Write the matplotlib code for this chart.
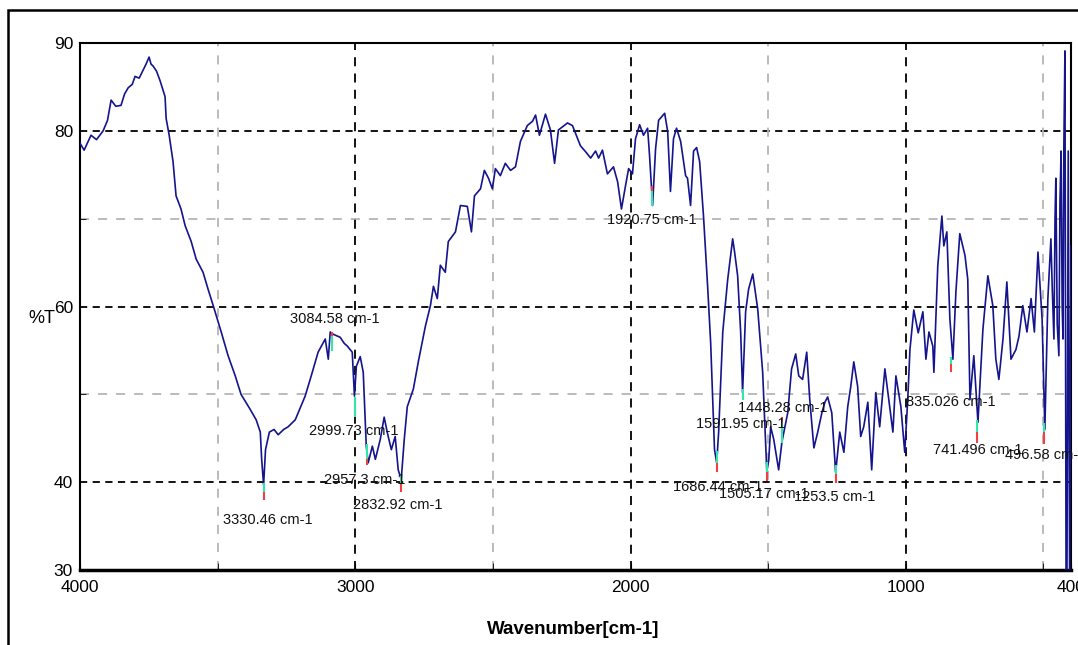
import matplotlib
matplotlib.use("Agg")
import matplotlib.pyplot as plt
from matplotlib.patches import Rectangle

plt.rcParams['font.family'] = ['Liberation Sans', 'DejaVu Sans']

# ---------------- data ----------------
wavenumber = [
    4000, 3985, 3960, 3940, 3916, 3900, 3887, 3870, 3851, 3838, 3825, 3810, 3800, 3785,
    3771, 3760, 3749, 3742, 3735, 3722, 3709, 3691, 3687, 3676, 3662, 3651, 3633, 3618,
    3596, 3578, 3553, 3535, 3516, 3487, 3462, 3436, 3415, 3382, 3360, 3345, 3340, 3333,
    3326, 3312, 3295, 3280, 3260, 3244, 3218, 3182, 3160, 3135, 3109, 3098, 3091, 3084,
    3070, 3055, 3040, 3029, 3011, 3003, 2996, 2982, 2971, 2960, 2953, 2938, 2927, 2909,
    2895, 2884, 2869, 2855, 2844, 2833, 2822, 2811, 2789, 2771, 2745, 2727, 2716, 2702,
    2691, 2673, 2662, 2636, 2618, 2593, 2578, 2567, 2545, 2531, 2516, 2502, 2491, 2473,
    2455, 2436, 2418, 2400, 2375, 2356, 2345, 2331, 2309, 2291, 2276, 2262, 2229, 2211,
    2182, 2160, 2145, 2127, 2116, 2102, 2084, 2062, 2047, 2033, 2018, 2007, 1993, 1982,
    1967, 1953, 1938, 1931, 1920, 1909, 1898, 1876, 1865, 1855, 1844, 1833, 1818, 1800,
    1793, 1782, 1771, 1760, 1749, 1735, 1720, 1709, 1695, 1687, 1680, 1665, 1647, 1629,
    1622, 1611, 1600, 1593, 1582, 1571, 1556, 1538, 1520, 1505, 1498, 1491, 1480, 1462,
    1450, 1429, 1415, 1400, 1389, 1375, 1360, 1349, 1334, 1320, 1305, 1294, 1284, 1269,
    1255, 1240, 1225, 1211, 1200, 1189, 1175, 1164, 1153, 1138, 1124, 1109, 1095, 1076,
    1062, 1047, 1036, 1018, 1004, 993, 985, 971, 955, 938, 927, 916, 902, 898,
    884, 869, 862, 851, 840, 829, 818, 804, 785, 775, 767, 753, 738, 720,
    702, 684, 673, 662, 647, 633, 618, 600, 589, 575, 560, 545, 533, 520,
    505, 495, 484, 473, 468, 462, 458, 455, 450, 444, 440, 436, 432, 429,
    426, 422, 418, 415, 410, 405, 400,
]
transmittance = [
    78.6, 77.8, 79.5, 79.0, 80.0, 81.2, 83.5, 82.8, 82.9, 84.2, 84.9, 85.3, 86.2, 86.0,
    86.9, 87.6, 88.4, 87.6, 87.4, 86.8, 85.7, 83.9, 81.4, 79.5, 76.5, 72.6, 71.1, 69.2,
    67.4, 65.4, 63.9, 62.0, 60.1, 57.1, 54.4, 52.1, 50.0, 48.3, 47.1, 45.7, 42.6, 39.7,
    43.7, 45.7, 46.0, 45.4, 46.0, 46.3, 47.1, 49.8, 52.1, 54.8, 56.3, 54.0, 57.1, 56.9,
    56.7, 56.5, 55.8, 55.5, 54.8, 49.8, 53.2, 54.3, 52.5, 44.1, 42.2, 44.1, 42.6, 44.9,
    47.4, 45.7, 43.7, 45.2, 41.4, 40.3, 44.9, 48.6, 50.6, 53.7, 57.8, 60.1, 62.3, 60.9,
    64.7, 63.9, 67.4, 68.5, 71.5, 71.4, 68.5, 72.6, 73.4, 75.5, 74.6, 73.4, 75.7, 74.9,
    76.3, 75.5, 75.9, 78.8, 80.6, 81.1, 81.8, 79.5, 81.9, 80.1, 76.3, 80.1, 80.9, 80.6,
    78.3, 77.5, 76.9, 77.7, 76.9, 77.8, 75.1, 75.9, 74.2, 71.1, 73.8, 75.7, 75.1, 79.1,
    80.7, 79.5, 80.3, 77.2, 71.5, 78.0, 81.2, 82.0, 79.9, 73.1, 79.1, 80.3, 78.8, 74.9,
    74.6, 71.5, 77.7, 78.1, 76.5, 70.3, 62.3, 55.9, 43.7, 42.2, 45.7, 57.1, 63.1, 67.7,
    66.2, 63.5, 57.1, 50.2, 59.4, 62.0, 63.7, 59.7, 52.5, 41.2, 42.5, 46.3, 44.9, 41.4,
    44.6, 47.9, 52.9, 54.6, 52.1, 51.7, 54.8, 49.4, 43.9, 45.7, 47.9, 49.1, 49.7, 47.9,
    41.1, 45.7, 43.4, 48.6, 50.9, 53.7, 50.9, 45.2, 46.3, 49.1, 41.4, 50.2, 46.3, 52.9,
    49.4, 45.7, 52.1, 48.6, 43.4, 49.4, 55.1, 59.6, 57.0, 59.4, 54.0, 57.1, 55.5, 52.5,
    64.6, 70.3, 66.9, 68.5, 58.6, 54.0, 61.7, 68.3, 65.8, 63.1, 49.4, 54.4, 46.8, 57.4,
    63.5, 60.1, 54.0, 51.7, 56.3, 62.8, 54.0, 55.1, 56.6, 60.1, 57.1, 60.9, 57.1, 66.2,
    58.6, 46.0, 60.9, 67.7, 62.0, 56.3, 70.0, 74.6, 58.0, 54.4, 72.0, 77.7, 60.0, 56.3,
    78.0, 89.1, 30.0, 25.0, 77.7, 28.0, 66.9,
]

peak_wn = [3330.46, 3084.58, 2999.73, 2957.3, 2832.92, 1920.75, 1686.44,
           1591.95, 1448.28, 1505.17, 1253.5, 835.026, 741.496, 496.58]
peak_labels = ["3330.46 cm-1", "3084.58 cm-1", "2999.73 cm-1", "2957.3 cm-1",
               "2832.92 cm-1", "1920.75 cm-1", "1686.44 cm-1", "1591.95 cm-1",
               "1448.28 cm-1", "1505.17 cm-1", "1253.5 cm-1", "835.026 cm-1",
               "741.496 cm-1", "496.58 cm-1"]
cyan_marks = [(39.9, 38.9), (56.6, 54.9), (49.7, 47.4), (44.3, 42.6), (40.9, 39.8),
              (73.2, 71.4), (43.5, 42.2), (50.6, 49.4), (46.9, 44.5), (42.3, 41.2),
              (42.0, 40.9), (54.2, 53.4), (47.1, 45.7), (46.7, 45.7)]
red_marks = [(38.9, 38.0), (57.1, 56.6), None, (42.6, 42.0), (39.8, 38.9),
             (73.7, 73.2), (42.2, 41.2), None, (47.4, 46.9), (41.2, 40.1),
             (40.9, 39.9), (53.4, 52.5), (45.7, 44.5), (45.7, 44.3)]

# label placement (layout)
label_xy = [(3316, 35.7), (3073, 58.6), (3004, 45.8), (2964, 40.3), (2844, 37.4),
            (1924, 69.9), (1684, 39.5), (1600, 46.6), (1447, 48.4), (1516, 38.6),
            (1258, 38.3), (837, 49.1), (738, 43.7), (491, 43.1)]

x_major = [4000, 3000, 2000, 1000, 400]
x_minor = [3500, 2500, 1500, 500]
y_major = [30, 40, 60, 80, 90]
y_minor = [50, 70]

# ---------------- figure ----------------
fig = plt.figure(figsize=(10.78, 6.45), dpi=100)
ax = fig.add_axes([0.0742, 0.1163, 0.9193, 0.8170])

for v in [80, 60, 40]:
    ax.axhline(v, color='black', lw=1.3, dashes=(4, 3), zorder=1)
for v in y_minor:
    ax.axhline(v, color='#b5b5b5', lw=1.3, dashes=(5, 5), zorder=1)
for v in [3000, 2000, 1000]:
    ax.axvline(v, color='black', lw=1.3, dashes=(5, 4), zorder=1)
for v in x_minor:
    ax.axvline(v, color='#b5b5b5', lw=1.3, dashes=(5, 5), zorder=1)

ax.plot(wavenumber, transmittance, color='#14148c', lw=1.2, zorder=3)

for wn, c, r in zip(peak_wn, cyan_marks, red_marks):
    ax.plot([wn, wn], list(c), color='#33e6a8', lw=1.5, zorder=4, solid_capstyle='butt')
    if r is not None:
        ax.plot([wn, wn], list(r), color='#f04040', lw=1.5, zorder=4, solid_capstyle='butt')

for (tx, ty), lab in zip(label_xy, peak_labels):
    ax.text(tx, ty, lab, ha='center', va='center', fontsize=10.5, color='#111111',
            zorder=5, clip_on=False)

ax.set_xlim(4000, 400)
ax.set_ylim(30, 90)
ax.set_xticks(x_major)
ax.set_xticklabels([str(v) for v in x_major])
ax.set_xticks(x_minor, minor=True)
ax.set_yticks(y_major)
ax.set_yticklabels([str(v) for v in y_major])
ax.set_yticks(y_minor, minor=True)
ax.tick_params(axis='both', which='both', direction='in', labelsize=12.5)
ax.tick_params(axis='x', which='major', length=5, pad=7)
ax.tick_params(axis='x', which='minor', length=5)
ax.tick_params(axis='y', which='major', length=0, pad=5)
ax.tick_params(axis='y', which='minor', length=4)

for side in ['left', 'top', 'right']:
    ax.spines[side].set_linewidth(1.5)
ax.spines['bottom'].set_linewidth(2.5)

fig.text(0.026, 1 - 318 / 645, "%T", fontsize=13, ha='left', va='center')
fig.text(0.532, 1 - 630 / 645, "Wavenumber[cm-1]", fontsize=13.5, fontweight='bold',
         ha='center', va='center')

fig.patches.append(Rectangle((8 / 1078, -0.2), 1.2, 1.2 - 10 / 645, transform=fig.transFigure,
                             fill=False, edgecolor='black', lw=1.8, zorder=0))

fig.savefig("out.png", dpi=100)
